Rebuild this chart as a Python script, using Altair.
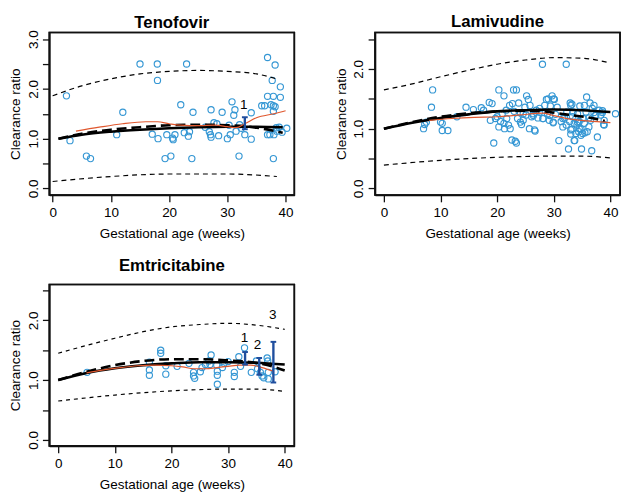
import altair as alt
import pandas as pd

FONT = "Liberation Sans"
BLUE = "#3597D4"
RED = "#E0582F"
NAVY = "#1F4E9E"

# ---------------- Tenofovir ----------------
ten_px = [2.37, 2.98, 5.8, 6.5, 11.0, 12.05, 15.0, 17.1, 17.97, 18.0, 18.1, 19.3, 19.6, 20.3, 20.6, 20.7, 21.0,
          22.0, 22.6, 23.0, 23.3, 23.5, 23.9, 24.1, 26.2, 26.9, 27.1, 27.2, 27.2, 27.7, 28.2, 28.5, 29.1, 30.0,
          30.3, 30.5, 30.8, 31.1, 31.3, 31.5, 32.0, 32.1, 32.4, 33.0, 34.1, 34.1, 35.9, 36.4, 36.9, 36.9, 36.9,
          37.3, 37.5, 37.7, 37.9, 37.9, 38.0, 38.2, 38.2, 37.9, 38.4, 38.5, 39.1, 39.1, 38.9, 39.4, 40.2, 37.9]
ten_py = [1.86, 0.96, 0.65, 0.60, 1.08, 1.53, 2.50, 1.09, 2.50, 2.17, 1.00, 0.60, 1.08, 0.65, 1.01, 0.98, 1.08,
          1.68, 1.12, 2.50, 1.05, 1.14, 0.60, 1.53, 1.23, 1.14, 1.08, 1.03, 1.58, 1.32, 1.30, 1.06, 1.53, 1.00,
          1.27, 1.08, 1.74, 1.47, 1.58, 1.15, 0.65, 1.28, 1.21, 1.08, 1.52, 0.99, 1.66, 1.66, 2.63, 1.85, 1.08,
          1.08, 1.68, 2.17, 1.85, 1.66, 1.08, 2.48, 1.64, 0.60, 1.22, 1.15, 2.04, 1.83, 1.23, 1.13, 1.21, 1.55]
ten_up_x = [0, 5, 10, 15, 20, 25, 30, 35, 38.5]
ten_up_y = [1.86, 2.06, 2.20, 2.30, 2.35, 2.37, 2.35, 2.30, 2.20]
ten_lo_x = [0, 10, 20, 30, 38.5]
ten_lo_y = [0.14, 0.24, 0.29, 0.29, 0.24]
ten_solid_x = [1, 5, 10, 15, 20, 25, 30, 35, 39.5]
ten_solid_y = [1.00, 1.08, 1.14, 1.18, 1.21, 1.23, 1.24, 1.24, 1.23]
ten_dash_x = [1, 5, 10, 15, 20, 25, 30, 35, 39.5]
ten_dash_y = [1.00, 1.10, 1.18, 1.23, 1.27, 1.28, 1.27, 1.22, 1.12]
ten_red_x = [4, 8, 12, 16, 18, 20, 22, 25, 28, 30, 31.5, 33, 35, 38, 40]
ten_red_y = [1.15, 1.23, 1.30, 1.34, 1.34, 1.30, 1.27, 1.26, 1.27, 1.24, 1.22, 1.30, 1.42, 1.50, 1.56]
ten_err_x = [33.0]
ten_err_lo = [1.19]
ten_err_hi = [1.43]
ten_lab_x = [32.8]
ten_lab_y = [1.68]
ten_lab = ["1"]

# ---------------- Lamivudine ----------------
lam_px = [7.0, 7.2, 7.5, 8.4, 8.6, 10.0, 10.3, 10.3, 11.3, 12.9, 14.5, 15.8, 17.2, 17.6, 18.6, 19.1, 18.8, 19.4,
          19.7, 20.0, 20.3, 20.3, 20.6, 20.9, 21.2, 21.2, 21.3, 21.6, 21.7, 22.0, 22.2, 22.3, 22.6, 22.7, 22.9,
          23.0, 23.2, 23.4, 23.4, 23.6, 23.8, 24.1, 24.3, 24.6, 24.9, 25.1, 25.2, 25.5, 25.7, 25.8, 26.1, 26.4,
          26.6, 26.9, 27.2, 27.5, 28.0, 28.1, 28.4, 28.7, 28.9, 29.2, 29.4, 29.7, 29.9, 30.1, 30.3, 30.6, 30.9,
          31.3, 31.6, 31.9, 32.2, 32.3, 32.6, 32.8, 32.9, 33.0, 33.0, 33.2, 33.3, 33.4, 33.6, 33.7, 33.9, 34.1,
          34.2, 34.4, 34.5, 34.6, 34.8, 34.9, 35.1, 35.2, 35.5, 35.7, 35.8, 35.9, 36.2, 36.4, 36.7, 36.8, 37.1,
          37.4, 37.7, 38.0, 38.3, 38.6, 38.8, 40.9, 29.0, 30.0, 33.2, 35.4, 37.1, 38.6, 26.7, 33.6, 29.3, 29.9,
          31.6, 32.2, 34.2, 34.5, 35.4, 36.2, 36.5, 37.4, 38.9, 38.9, 28.1, 27.5, 26.4, 24.6, 24.1, 33.0, 33.9,
          34.8]
lam_py = [1.00, 1.07, 1.11, 1.36, 1.65, 1.11, 1.09, 0.97, 0.97, 1.20, 1.36, 1.32, 1.35, 1.31, 1.44, 1.42, 1.14, 0.76,
          1.17, 1.20, 1.65, 1.03, 1.12, 1.25, 1.55, 1.09, 1.00, 1.31, 1.17, 1.06, 1.39, 1.00, 0.81, 1.42, 1.65,
          1.29, 0.79, 1.65, 0.76, 1.17, 1.43, 1.27, 1.07, 1.14, 1.36, 1.23, 1.55, 1.49, 1.00, 1.39, 1.20, 1.25,
          0.98, 1.31, 1.18, 1.34, 2.08, 1.17, 1.39, 1.49, 1.25, 1.14, 1.38, 1.55, 1.10, 1.49, 1.24, 1.36, 0.80,
          1.12, 1.03, 1.18, 2.08, 1.28, 0.66, 1.12, 1.43, 1.39, 0.91, 0.99, 1.20, 1.28, 1.09, 0.80, 1.17, 1.06,
          1.25, 0.95, 1.12, 1.38, 1.00, 0.66, 0.92, 1.17, 0.93, 1.28, 1.53, 0.95, 1.18, 1.43, 0.63, 1.34, 1.27,
          1.23, 0.86, 1.31, 1.23, 1.27, 1.07, 1.25, 1.50, 1.50, 1.41, 1.39, 1.39, 1.30, 0.96, 0.80, 1.22, 1.11,
          1.17, 1.06, 1.11, 1.00, 1.09, 1.03, 1.14, 1.22, 1.14, 1.06, 1.17, 1.28, 1.22, 1.25, 1.11, 0.98, 0.92,
          0.89]
lam_up_x = [0, 5, 10, 15, 20, 25, 30, 35, 40]
lam_up_y = [1.65, 1.75, 1.87, 1.98, 2.08, 2.15, 2.19, 2.18, 2.10]
lam_lo_x = [0, 10, 20, 30, 35, 40]
lam_lo_y = [0.39, 0.47, 0.52, 0.54, 0.54, 0.51]
lam_solid_x = [0, 5, 10, 15, 20, 25, 30, 35, 40]
lam_solid_y = [1.00, 1.10, 1.18, 1.24, 1.29, 1.31, 1.32, 1.31, 1.28]
lam_dash_x = [0, 5, 10, 15, 20, 25, 28, 32, 36, 39]
lam_dash_y = [1.00, 1.11, 1.20, 1.26, 1.29, 1.30, 1.29, 1.24, 1.19, 1.13]
lam_red_x = [8, 12, 16, 20, 24, 28, 30, 33, 36, 40]
lam_red_y = [1.14, 1.17, 1.19, 1.20, 1.23, 1.26, 1.22, 1.16, 1.13, 1.10]

# ---------------- Emtricitabine ----------------
emt_px = [5.1, 16.1, 16.1, 16.1, 18.1, 18.1, 19.0, 19.0, 21.0, 23.1, 23.9, 23.9, 24.1, 25.1, 25.4, 26.0, 26.6,
          27.0, 26.8, 28.0, 28.1, 28.1, 28.1, 29.0, 29.3, 30.0, 31.1, 31.1, 31.9, 32.2, 32.9, 34.1, 35.0, 35.2,
          35.7, 36.0, 36.3, 36.9, 37.0, 37.1, 37.1, 38.3]
emt_py = [1.13, 1.30, 1.17, 1.08, 1.50, 1.45, 1.24, 1.10, 1.23, 1.28, 1.13, 1.07, 1.03, 1.14, 1.21, 1.26, 1.32,
          1.42, 1.26, 1.25, 1.15, 1.08, 0.93, 1.21, 1.28, 1.31, 1.13, 1.06, 1.39, 1.23, 1.54, 1.13, 1.32, 1.19,
          1.13, 1.07, 1.04, 1.37, 1.32, 1.13, 1.02, 1.14]
emt_up_x = [0, 5, 10, 15, 20, 25, 30, 35, 40]
emt_up_y = [1.45, 1.58, 1.70, 1.81, 1.89, 1.93, 1.95, 1.92, 1.85]
emt_lo_x = [0, 10, 20, 30, 35, 40]
emt_lo_y = [0.65, 0.75, 0.82, 0.85, 0.85, 0.81]
emt_solid_x = [0, 5, 10, 15, 20, 25, 30, 35, 40]
emt_solid_y = [1.00, 1.12, 1.20, 1.25, 1.28, 1.30, 1.30, 1.29, 1.26]
emt_dash_x = [0, 5, 10, 15, 20, 25, 30, 33, 36, 38.5, 40]
emt_dash_y = [1.00, 1.14, 1.25, 1.32, 1.35, 1.35, 1.33, 1.31, 1.27, 1.21, 1.16]
emt_red_x = [5, 8, 11, 14, 17, 20, 22, 24, 26, 28, 30, 32, 34, 36, 38]
emt_red_y = [1.12, 1.17, 1.21, 1.24, 1.25, 1.24, 1.22, 1.19, 1.19, 1.21, 1.23, 1.25, 1.25, 1.21, 1.15]
emt_err_x = [33.0, 35.5, 38.0]
emt_err_lo = [1.26, 1.09, 0.96]
emt_err_hi = [1.47, 1.37, 1.64]
emt_lab_x = [32.9, 35.2, 37.9]
emt_lab_y = [1.70, 1.59, 2.09]
emt_lab = ["1", "2", "3"]

FS = 13.7
TFS = 17
BOX = "#111111"


def axis_x():
    return alt.Axis(values=[0, 10, 20, 30, 40], title="Gestational age (weeks)", grid=False,
                    domain=True, domainColor=BOX, domainWidth=1.6,
                    tickSize=7, tickColor=BOX, tickWidth=1.3, labelFontSize=FS, titleFontSize=FS,
                    labelPadding=4, titlePadding=8, labelColor="black", titleColor="black", labelFont=FONT,
                    titleFont=FONT, titleFontWeight="normal", labelFlush=False, labelOverlap=False)


def axis_y(ticks):
    return alt.Axis(values=ticks, title="Clearance ratio", grid=False,
                    domain=True, domainColor=BOX, domainWidth=1.6,
                    labelExpr="datum.value % 1 === 0 ? format(datum.value, '.1f') : ''",
                    labelAngle=270, labelAlign="center", labelBaseline="bottom",
                    tickSize=7, tickColor=BOX, tickWidth=1.3, labelFontSize=FS, titleFontSize=FS,
                    labelPadding=2.3, titlePadding=3.6, labelColor="black", titleColor="black", labelFont=FONT,
                    titleFont=FONT, titleFontWeight="normal", labelFlush=False, labelOverlap=False)


def panel(title, px, py, upx, upy, lox, loy, sx, sy, dx, dy, rx, ry, xdom, ydom, yticks, w, h,
          bound_dash, toff, ex=None, elo=None, ehi=None, lx=None, ly=None, lt=None):
    xs = alt.Scale(domain=xdom, nice=False, zero=False)
    ys = alt.Scale(domain=ydom, nice=False, zero=False)
    X = alt.X("x:Q", scale=xs, axis=axis_x())
    Y = alt.Y("y:Q", scale=ys, axis=axis_y(yticks))

    # plot frame spanning the scale domains
    frame = alt.Chart(pd.DataFrame({"x": [xdom[0]], "x2": [xdom[1]], "y": [ydom[0]], "y2": [ydom[1]]})).mark_rect(
        filled=False, stroke=BOX, strokeWidth=1.6).encode(x=X, x2="x2:Q", y=Y, y2="y2:Q")

    pts = alt.Chart(pd.DataFrame({"x": px, "y": py})).mark_point(
        filled=False, size=40, strokeWidth=1.15, color=BLUE, opacity=1).encode(x=X, y=Y)
    up = alt.Chart(pd.DataFrame({"x": upx, "y": upy})).mark_line(
        color="black", strokeWidth=1.2, strokeDash=bound_dash, interpolate="monotone").encode(x=X, y=Y)
    lo = alt.Chart(pd.DataFrame({"x": lox, "y": loy})).mark_line(
        color="black", strokeWidth=1.2, strokeDash=bound_dash, interpolate="monotone").encode(x=X, y=Y)
    solid = alt.Chart(pd.DataFrame({"x": sx, "y": sy})).mark_line(
        color="black", strokeWidth=2.6, interpolate="monotone").encode(x=X, y=Y)
    dash = alt.Chart(pd.DataFrame({"x": dx, "y": dy})).mark_line(
        color="black", strokeWidth=2.6, strokeDash=[10, 5], interpolate="monotone").encode(x=X, y=Y)
    red = alt.Chart(pd.DataFrame({"x": rx, "y": ry})).mark_line(
        color=RED, strokeWidth=1.2, interpolate="monotone").encode(x=X, y=Y)
    layers = [frame, pts, up, lo, solid, dash, red]
    if ex is not None:
        edf = pd.DataFrame({"x": ex, "lo": elo, "hi": ehi})
        bar = alt.Chart(edf).mark_rule(color=NAVY, strokeWidth=2.4).encode(
            x=X, y=alt.Y("lo:Q", scale=ys, axis=axis_y(yticks)), y2="hi:Q")
        caps = []
        for col in ["lo", "hi"]:
            caps.append(alt.Chart(edf).transform_calculate(
                xa="datum.x - 0.5", xb="datum.x + 0.5").mark_rule(color=NAVY, strokeWidth=2).encode(
                x=alt.X("xa:Q", scale=xs, axis=axis_x()), x2="xb:Q",
                y=alt.Y(f"{col}:Q", scale=ys, axis=axis_y(yticks))))
        txt = alt.Chart(pd.DataFrame({"x": lx, "y": ly, "t": lt})).mark_text(
            font=FONT, fontSize=FS, color="black").encode(x=X, y=Y, text="t:N")
        layers += [bar] + caps + [txt]
    return alt.layer(*layers).properties(
        width=w, height=h,
        title=alt.TitleParams(title, font=FONT, fontSize=TFS, fontWeight="bold", color="black",
                              anchor="middle", offset=toff))


p1 = panel("Tenofovir", ten_px, ten_py, ten_up_x, ten_up_y, ten_lo_x, ten_lo_y, ten_solid_x, ten_solid_y,
           ten_dash_x, ten_dash_y, ten_red_x, ten_red_y, [-0.57, 41.5], [-0.13, 3.13],
           [0, 0.5, 1, 1.5, 2, 2.5, 3], 249, 165, [5, 4], -2.2,
           ten_err_x, ten_err_lo, ten_err_hi, ten_lab_x, ten_lab_y, ten_lab)
p2 = panel("Lamivudine", lam_px, lam_py, lam_up_x, lam_up_y, lam_lo_x, lam_lo_y, lam_solid_x, lam_solid_y,
           lam_dash_x, lam_dash_y, lam_red_x, lam_red_y, [-1.57, 41.7], [-0.11, 2.61],
           [0, 0.5, 1, 1.5, 2, 2.5], 249, 165, [5, 4], 0.7)
p3 = panel("Emtricitabine", emt_px, emt_py, emt_up_x, emt_up_y, emt_lo_x, emt_lo_y, emt_solid_x, emt_solid_y,
           emt_dash_x, emt_dash_y, emt_red_x, emt_red_y, [-1.57, 41.7], [-0.1, 2.6],
           [0, 0.5, 1, 1.5, 2, 2.5], 249, 164, [4, 4], 8.6,
           emt_err_x, emt_err_lo, emt_err_hi, emt_lab_x, emt_lab_y, emt_lab)

chart = alt.concat(p1, p2, p3, columns=2, spacing={"row": 91, "column": 82}, bounds="flush").properties(
    padding={"left": 0, "top": 0, "right": 0, "bottom": 0}, background="white"
).configure_view(stroke=BOX, strokeWidth=1.6)

chart.save("out.html", embed_options={"renderer": "svg", "actions": False})
